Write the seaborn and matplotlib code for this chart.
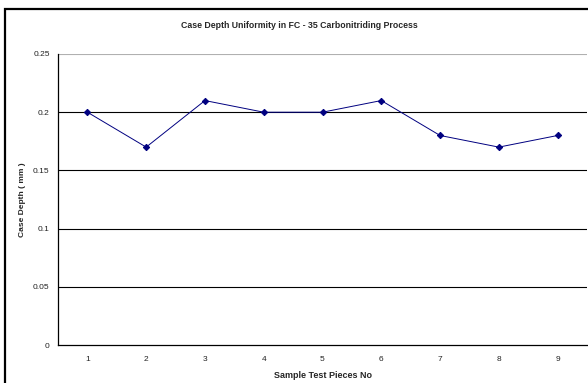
import matplotlib
matplotlib.use("Agg")
import matplotlib.pyplot as plt
import seaborn as sns
import pandas as pd
import numpy as np
from matplotlib.patches import Rectangle

sns.set_style("white")
plt.rcParams['font.family'] = ['Liberation Sans', 'DejaVu Sans']

pieces = ["1", "2", "3", "4", "5", "6", "7", "8", "9"]
case_depth = [0.20, 0.17, 0.21, 0.20, 0.20, 0.21, 0.18, 0.17, 0.18]
y_ticks = [0, 0.05, 0.1, 0.15, 0.2, 0.25]
y_tick_labels = ["0", "0.05", "0.1", "0.15", "0.2", "0.25"]

df = pd.DataFrame({"pos": np.arange(len(pieces)), "depth": case_depth})

fig = plt.figure(figsize=(5.88, 3.83), dpi=100)
ax = fig.add_axes([58 / 588, 38 / 383, 529 / 588, 291 / 383])

# horizontal gridlines
for yv in y_ticks[1:]:
    ax.axhline(yv, color="#000000" if yv < 0.25 else "#b0b0b0", lw=0.8, zorder=1)

sns.lineplot(data=df, x="pos", y="depth", ax=ax, color="#000080", lw=0.7,
             marker="D", markersize=3.2, markeredgecolor="#000080", zorder=3)

ax.set_xlim(-0.5, len(pieces) - 0.5)
ax.set_ylim(0, 0.25)
ax.set_xticks(np.arange(-0.5, len(pieces), 1.0))
ax.set_xticklabels([])
ax.set_xticks(np.arange(len(pieces)), minor=True)
ax.set_xticklabels(pieces, minor=True)
ax.tick_params(axis="x", which="major", direction="inout", length=4, width=0.8, color="black")
ax.tick_params(axis="x", which="minor", length=0, labelsize=6, pad=8, labelcolor="#222222")
ax.set_yticks(y_ticks)
ax.set_yticklabels(y_tick_labels)
ax.tick_params(axis="y", direction="out", length=3, width=0.8, color="black",
               labelsize=6, labelcolor="#222222", pad=3)

for s in ["top", "right"]:
    ax.spines[s].set_visible(False)
for s in ["left", "bottom"]:
    ax.spines[s].set_color("black")
    ax.spines[s].set_linewidth(0.9)

ax.set_xlabel("Sample Test Pieces No", fontsize=6.5, fontweight="bold", labelpad=6)
ax.set_ylabel("Case Depth ( mm )", fontsize=6, fontweight="bold", labelpad=5)
fig.text(0.5 + 5 / 588, 1 - 25 / 383, "Case Depth Uniformity in FC - 35 Carbonitriding Process",
         ha="center", va="center", fontsize=6.3, fontweight="bold")

# chart frame
fig.patches.append(Rectangle((5 / 588, -0.1), 1.2, (383 - 9) / 383 + 0.1,
                             transform=fig.transFigure, fill=False,
                             edgecolor="black", lw=1.6, zorder=10))

fig.savefig("out.png", dpi=100)
